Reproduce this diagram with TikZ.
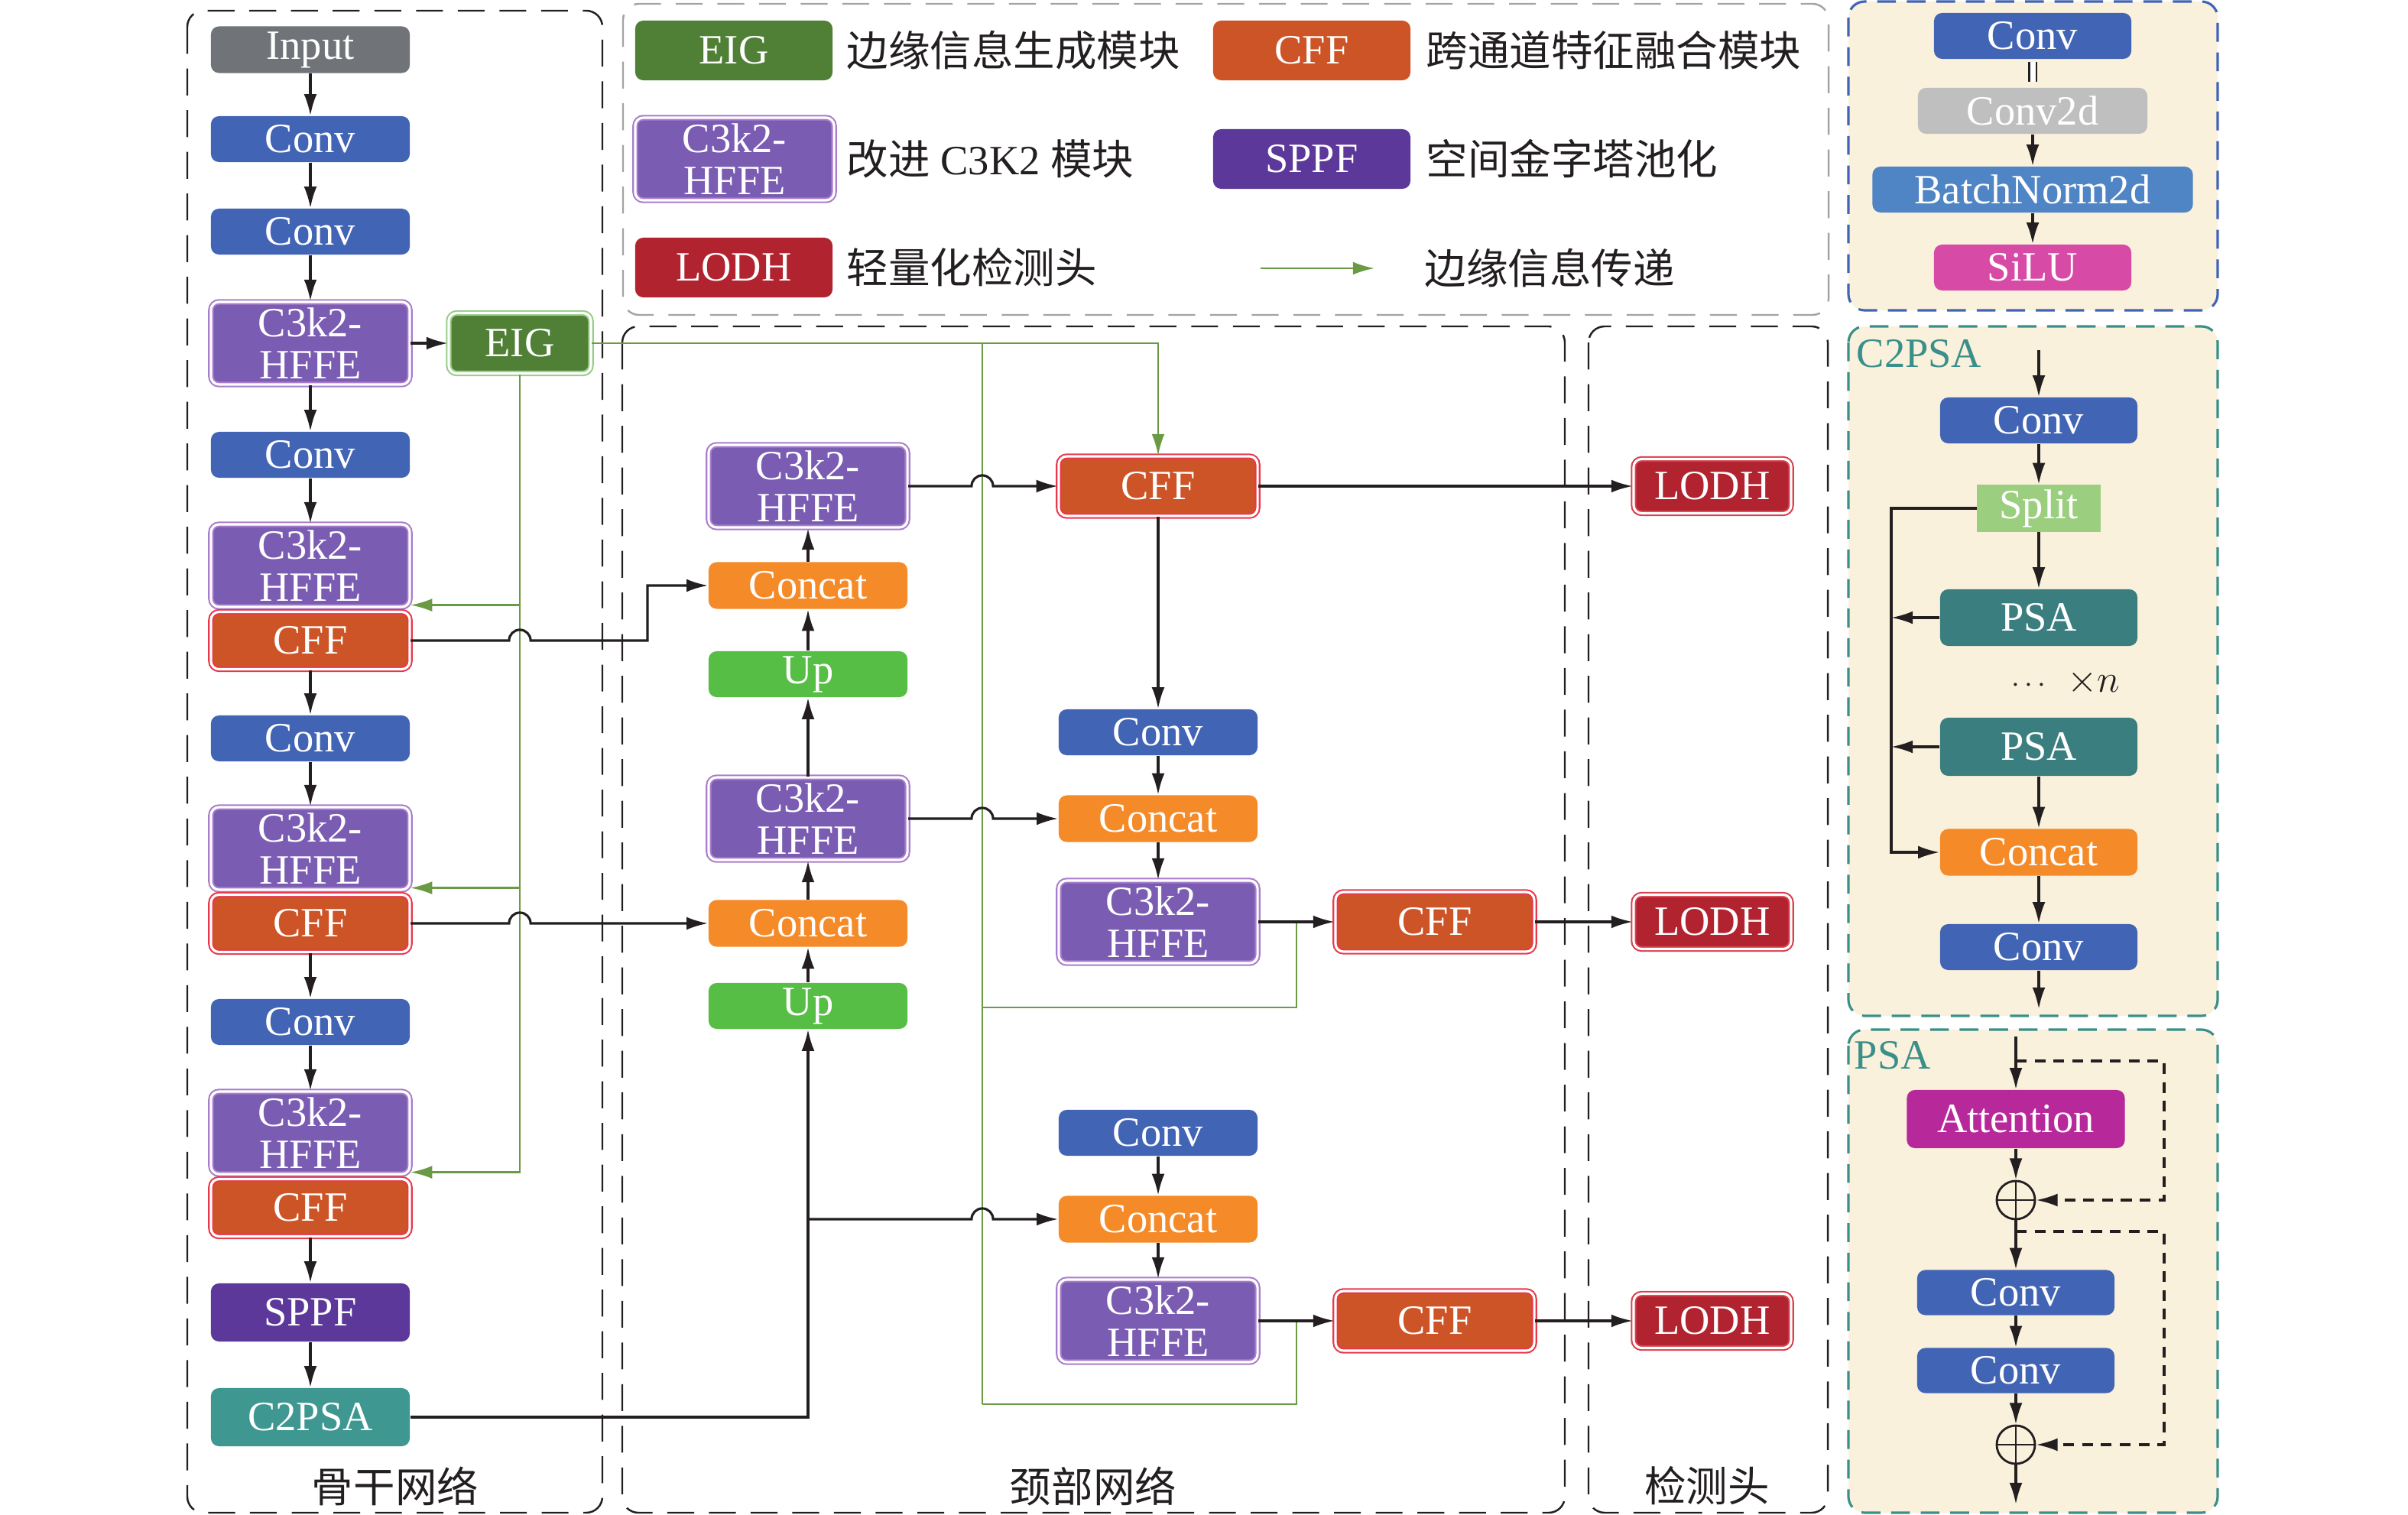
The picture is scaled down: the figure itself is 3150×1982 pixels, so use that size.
\documentclass[tikz,border=0pt]{standalone}
\usepackage{fontspec}
\setmainfont{Liberation Serif}
\newfontfamily\cjk{Noto Sans CJK SC}
\usetikzlibrary{arrows.meta,positioning,calc}

\definecolor{ink}{HTML}{231F20}
\definecolor{convblue}{HTML}{4264B4}
\definecolor{inputgray}{HTML}{707479}
\definecolor{hffefill}{HTML}{7A5CB2}
\definecolor{hffeline}{HTML}{A97DCB}
\definecolor{eigfill}{HTML}{507F36}
\definecolor{eigline}{HTML}{98CE87}
\definecolor{cfffill}{HTML}{CD5427}
\definecolor{cffline}{HTML}{E6394A}
\definecolor{sppffill}{HTML}{5B3899}
\definecolor{c2psafill}{HTML}{3F9791}
\definecolor{catfill}{HTML}{F58A29}
\definecolor{upfill}{HTML}{56BE44}
\definecolor{lodhfill}{HTML}{B1232E}
\definecolor{lodhline}{HTML}{D8404E}
\definecolor{edgegreen}{HTML}{6B9A45}
\definecolor{c2dgray}{HTML}{BFBFBF}
\definecolor{bnblue}{HTML}{4F85C5}
\definecolor{silupink}{HTML}{D74BA7}
\definecolor{splitgreen}{HTML}{9BCF7F}
\definecolor{psateal}{HTML}{3B7E7F}
\definecolor{attnpurple}{HTML}{B7299A}
\definecolor{cream}{HTML}{FAF1DC}
\definecolor{panelteal}{HTML}{3B8F8A}
\definecolor{legendgray}{HTML}{A3A3A3}

\tikzset{
  blk/.style      = {rounded corners=3pt, text=white, align=center, inner sep=0pt,
                     font=\fontsize{15.5}{15.5}\selectfont},
  dbl/.style      = {draw=#1, double=white, double distance=0.9pt, line width=0.6pt},
  convbox/.style  = {blk, fill=convblue, minimum width=2.6cm, minimum height=0.6cm},
  graybox/.style  = {blk, fill=inputgray, minimum width=2.6cm, minimum height=0.61cm},
  hffebox/.style  = {blk, fill=hffefill, dbl=hffeline, minimum width=2.6cm,
                     minimum height=1.08cm, font=\fontsize{15.5}{15.6}\selectfont},
  cffbox/.style   = {blk, fill=cfffill, dbl=cffline, minimum width=2.6cm, minimum height=0.75cm},
  eigbox/.style   = {blk, fill=eigfill, dbl=eigline, minimum width=1.86cm, minimum height=0.79cm},
  sppfbox/.style  = {blk, fill=sppffill, minimum width=2.6cm, minimum height=0.76cm},
  tealbox/.style  = {blk, fill=c2psafill, minimum width=2.6cm, minimum height=0.76cm},
  catbox/.style   = {blk, fill=catfill, minimum width=2.6cm, minimum height=0.61cm},
  upbox/.style    = {blk, fill=upfill, minimum width=2.6cm, minimum height=0.6cm},
  lodhbox/.style  = {blk, fill=lodhfill, dbl=lodhline, minimum width=2.06cm, minimum height=0.71cm},
  keybox/.style   = {blk, minimum width=2.58cm, minimum height=0.78cm},
  sumnode/.style  = {circle, draw=ink, line width=0.8pt, minimum size=0.5cm, inner sep=0pt,
                     path picture={\draw[ink, line width=0.8pt]
                       (path picture bounding box.north) -- (path picture bounding box.south)
                       (path picture bounding box.west) -- (path picture bounding box.east);}},
  arr/.style      = {-{Latex[length=8pt,width=4.8pt]}, line width=0.9pt, draw=ink},
  darr/.style     = {arr, dash pattern=on 4pt off 3pt},
  garr/.style     = {-{Latex[length=8pt,width=4.8pt]}, line width=0.75pt, draw=edgegreen},
  gline/.style    = {line width=0.75pt, draw=edgegreen},
  region/.style   = {draw=ink, line width=0.7pt, dash pattern=on 10pt off 5.5pt, rounded corners=6pt},
  panel/.style    = {fill=cream, line width=0.9pt, dash pattern=on 7pt off 4pt, rounded corners=6pt},
  legtxt/.style   = {inner sep=0pt, text=ink, font=\fontsize{15.5}{15.5}\selectfont},
  seclbl/.style   = {inner sep=0pt, text=ink, font=\cjk\fontsize{15.5}{15.5}\selectfont},
  ptitle/.style   = {inner sep=0pt, text=panelteal, font=\fontsize{15.5}{15.5}\selectfont, anchor=west},
}

\begin{document}
\begin{tikzpicture}[x=0.01cm, y=-0.01cm]
\useasboundingbox (0,0) rectangle (3150,1982);

% frames
\draw[region] (245,14) rectangle (788,1979);
\draw[region] (814,427) rectangle (2047,1979);
\draw[region] (2078,427) rectangle (2391,1979);
\draw[region, draw=legendgray] (815,5) rectangle (2392,412);
\draw[panel, draw=convblue] (2418,2) rectangle (2901,406);
\draw[panel, draw=panelteal] (2418,427) rectangle (2901,1329);
\draw[panel, draw=panelteal] (2418,1347) rectangle (2901,1979);

% legend
\node[keybox, fill=eigfill]  (keig)  at (960,66)  {EIG};
\node[legtxt, right=0.17cm of keig] (teig) {\cjk 边缘信息生成模块};
\node[keybox, fill=cfffill]  (kcff)  at (1716,66) {CFF};
\node[legtxt, right=0.19cm of kcff] (tcff) {\cjk 跨通道特征融合模块};
\node[hffebox] (khffe) at (961,208) {C3k2-\\HFFE};
\node[legtxt, right=0.15cm of khffe] (thffe) {{\cjk 改进} C3K2 {\cjk 模块}};
\node[keybox, fill=sppffill] (ksppf) at (1716,208) {SPPF};
\node[legtxt, right=0.19cm of ksppf] (tsppf) {\cjk 空间金字塔池化};
\node[keybox, fill=lodhfill] (klodh) at (960,350) {LODH};
\node[legtxt, right=0.17cm of klodh] (tlodh) {\cjk 轻量化检测头};
\coordinate (ka) at (1649,351);
\coordinate (kb) at (1798,351);
\draw[garr] (ka) -- (kb);
\node[legtxt, anchor=west] (tedge) at (1863,351) {\cjk 边缘信息传递};

% backbone
\node[graybox] (inp)  at (406,65)   {Input};
\node[convbox] (bc1)  at (406,182)  {Conv};
\node[convbox] (bc2)  at (406,303)  {Conv};
\node[hffebox] (bh1)  at (406,449)  {C3k2-\\HFFE};
\node[eigbox]  (eig)  at (680,449)  {EIG};
\node[convbox] (bc3)  at (406,595)  {Conv};
\node[hffebox] (bh2)  at (406,740)  {C3k2-\\HFFE};
\node[cffbox]  (bf1)  at (406,838)  {CFF};
\node[convbox] (bc4)  at (406,966)  {Conv};
\node[hffebox] (bh3)  at (406,1110) {C3k2-\\HFFE};
\node[cffbox]  (bf2)  at (406,1208) {CFF};
\node[convbox] (bc5)  at (406,1337) {Conv};
\node[hffebox] (bh4)  at (406,1482) {C3k2-\\HFFE};
\node[cffbox]  (bf3)  at (406,1580) {CFF};
\node[sppfbox] (sppf) at (406,1717) {SPPF};
\node[tealbox] (c2psa) at (406,1854) {C2PSA};
\node[seclbl]  (lbb)  at (517,1944) {骨干网络};

% neck
\node[hffebox] (nh1)   at (1057,636)  {C3k2-\\HFFE};
\node[catbox]  (ncat1) at (1057,766)  {Concat};
\node[upbox]   (nup1)  at (1057,882)  {Up};
\node[hffebox] (nh2)   at (1057,1071) {C3k2-\\HFFE};
\node[catbox]  (ncat2) at (1057,1208) {Concat};
\node[upbox]   (nup2)  at (1057,1316) {Up};
\node[cffbox, minimum height=0.78cm] (nf1) at (1515,636) {CFF};
\node[convbox] (nc1)   at (1515,958)  {Conv};
\node[catbox]  (ncat3) at (1515,1071) {Concat};
\node[hffebox] (nh3)   at (1515,1206) {C3k2-\\HFFE};
\node[cffbox, minimum height=0.78cm] (nf2) at (1877,1206) {CFF};
\node[convbox] (nc2)   at (1515,1482) {Conv};
\node[catbox]  (ncat4) at (1515,1595) {Concat};
\node[hffebox] (nh4)   at (1515,1728) {C3k2-\\HFFE};
\node[cffbox, minimum height=0.78cm] (nf3) at (1877,1728) {CFF};
\node[seclbl]  (lneck) at (1430,1944) {颈部网络};

% head
\node[lodhbox] (hd1) at (2240,636)  {LODH};
\node[lodhbox] (hd2) at (2240,1206) {LODH};
\node[lodhbox] (hd3) at (2240,1728) {LODH};
\node[seclbl]  (lhead) at (2233,1944) {检测头};

% edge information (green)
\coordinate (gb0) at (1285,449);
\coordinate (gb1) at (1285,1318);
\coordinate (gb2) at (1285,1837);
\coordinate (gj1) at ($(nh3.east)!.5!(nf2.west)$);
\coordinate (gj2) at ($(nh4.east)!.5!(nf3.west)$);
\draw[garr] (eig.south) |- ([yshift=1pt]bh4.south east);
\draw[garr] ([yshift=1pt]bh2.south east -| eig.south) -- ([yshift=1pt]bh2.south east);
\draw[garr] ([yshift=1pt]bh3.south east -| eig.south) -- ([yshift=1pt]bh3.south east);
\draw[garr] (eig.east) -| (nf1.north);
\draw[gline] (gb0) -- (gb2);
\draw[gline] (gj1) |- (gb1);
\draw[gline] (gj2) |- (gb2);

% main flow
\foreach \a/\b in {inp/bc1, bc1/bc2, bc2/bh1, bh1/bc3, bc3/bh2, bf1/bc4, bc4/bh3,
                   bf2/bc5, bc5/bh4, bf3/sppf, sppf/c2psa, bh1/eig}
  \draw[arr] (\a) -- (\b);
\foreach \a/\b in {ncat1/nh1, nup1/ncat1, nh2/nup1, ncat2/nh2, nup2/ncat2,
                   nf1/nc1, nc1/ncat3, ncat3/nh3, nh3/nf2, nf2/hd2, nf1/hd1,
                   nc2/ncat4, ncat4/nh4, nh4/nf3, nf3/hd3}
  \draw[arr] (\a) -- (\b);

% cross links with hops
\coordinate (kA) at (847,700);
\draw[arr] (bf1.east) -- ([xshift=-4pt]bf1.east -| eig.south)
  arc[start angle=180, end angle=0, radius=4pt] -| (kA |- ncat1.west) -- (ncat1.west);
\draw[arr] (bf2.east) -- ([xshift=-4pt]bf2.east -| eig.south)
  arc[start angle=180, end angle=0, radius=4pt] -- (ncat2.west);
\draw[arr] (nh1.east) -- ([xshift=-4pt]nh1.east -| gb0)
  arc[start angle=180, end angle=0, radius=4pt] -- (nf1.west);
\draw[arr] (nh2.east) -- ([xshift=-4pt]nh2.east -| gb0)
  arc[start angle=180, end angle=0, radius=4pt] -- (ncat3.west);
\draw[arr] (c2psa.east) -| (nup2.south);
\coordinate (jn) at (nup2.south |- ncat4.west);
\draw[arr] (jn) -- ([xshift=-4pt]jn -| gb0)
  arc[start angle=180, end angle=0, radius=4pt] -- (ncat4.west);

% Conv detail
\node[convbox, minimum width=2.58cm] (pc)  at (2659,47)  {Conv};
\node[blk, fill=c2dgray, minimum width=3.0cm, minimum height=0.6cm] (pc2d) at (2659,145) {Conv2d};
\node[blk, fill=bnblue, minimum width=4.19cm, minimum height=0.6cm] (pbn) at (2659,248) {BatchNorm2d};
\node[blk, fill=silupink, minimum width=2.58cm, minimum height=0.6cm] (psilu) at (2659,350) {SiLU};
\draw[ink, double, double distance=2pt, line width=0.6pt, shorten <=1pt, shorten >=2pt] (pc) -- (pc2d);
\foreach \a/\b in {pc2d/pbn, pbn/psilu}
  \draw[arr] (\a) -- (\b);

% C2PSA detail
\node[ptitle] (tc2) at (2428,463) {C2PSA};
\coordinate (ctop) at (2667,458);
\coordinate (cbot) at (2667,1320);
\coordinate (bx) at (2474,700);
\node[convbox, minimum width=2.58cm] (pcv1) at (2667,550) {Conv};
\node[blk, rounded corners=0pt, fill=splitgreen, minimum width=1.61cm, minimum height=0.61cm] (split) at (2667,665) {Split};
\node[blk, fill=psateal, minimum width=2.58cm, minimum height=0.74cm] (psa1) at (2667,808) {PSA};
\node[inner sep=0pt, text=ink] (rep) at (2702,893)
  {\fontsize{11}{11}\selectfont$\cdots$\hspace{8pt}\fontsize{14}{14}\selectfont$\times n$};
\node[blk, fill=psateal, minimum width=2.58cm, minimum height=0.76cm] (psa2) at (2667,977) {PSA};
\node[catbox, minimum width=2.58cm] (pcat) at (2667,1115) {Concat};
\node[convbox, minimum width=2.58cm] (pcv2) at (2667,1239) {Conv};
\draw[arr] (ctop) -- (pcv1);
\foreach \a/\b in {pcv1/split, split/psa1, psa2/pcat, pcat/pcv2}
  \draw[arr] (\a) -- (\b);
\draw[arr] (pcv2) -- (cbot);
\draw[arr] (split.west) -| (bx |- pcat.west) -- (pcat.west);
\draw[arr] (psa1.west) -- (psa1.west -| bx);
\draw[arr] (psa2.west) -- (psa2.west -| bx);

% PSA detail
\node[ptitle] (tpsa) at (2425,1381) {PSA};
\coordinate (pin)  at (2637,1356);
\coordinate (pout) at (2637,1968);
\coordinate (br1)  at (2637,1388);
\coordinate (br2)  at (2637,1611);
\coordinate (rx)   at (2831,1500);
\node[blk, fill=attnpurple, minimum width=2.85cm, minimum height=0.76cm] (att) at (2637,1464) {Attention};
\node[sumnode] (op1) at (2637,1570) {};
\node[convbox, minimum width=2.58cm, minimum height=0.59cm] (pcv3) at (2637,1691) {Conv};
\node[convbox, minimum width=2.58cm, minimum height=0.59cm] (pcv4) at (2637,1793) {Conv};
\node[sumnode] (op2) at (2637,1890) {};
\draw[arr] (pin) -- (att);
\draw[arr] (att) -- (op1);
\draw[arr] (op1) -- (pcv3);
\draw[arr] (pcv3) -- (pcv4);
\draw[arr] (pcv4) -- (op2);
\draw[arr] (op2) -- (pout);
\draw[darr] (br1) -| (rx |- op1.east) -- (op1.east);
\draw[darr] (br2) -| (rx |- op2.east) -- (op2.east);

\end{tikzpicture}
\end{document}
